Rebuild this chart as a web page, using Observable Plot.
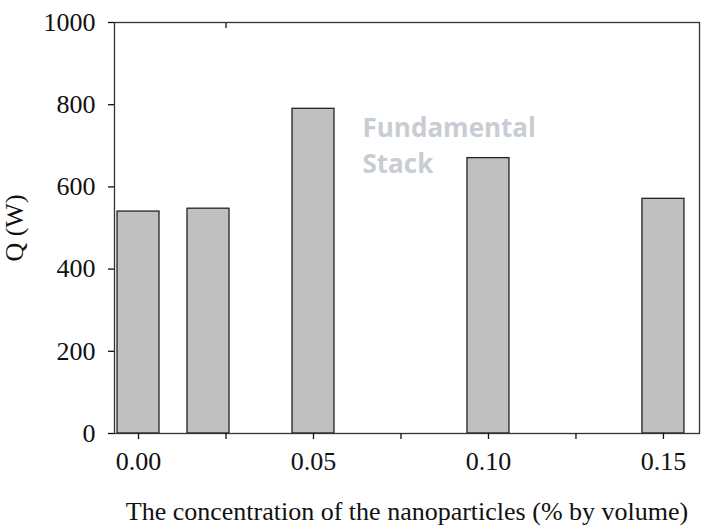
<!DOCTYPE html>
<html>
<head>
<meta charset="utf-8">
<script src="https://cdn.jsdelivr.net/npm/d3@7"></script>
<script src="https://cdn.jsdelivr.net/npm/@observablehq/plot@0.6"></script>
<style>
  html, body { margin: 0; padding: 0; background: #fff; }
</style>
</head>
<body>
<div id="chart"></div>
<script>
const concentrations = [0.00, 0.02, 0.05, 0.10, 0.15];
const heatQ = [540, 547, 790, 670, 571];
const xTicks = [0.00, 0.025, 0.05, 0.075, 0.10, 0.125, 0.15];
const xTickLabels = ["0.00", "", "0.05", "", "0.10", "", "0.15"];
const yTicks = [0, 200, 400, 600, 800, 1000];
const watermark = "Fundamental\nStack";

const data = concentrations.map((c, i) => ({c, q: heatQ[i]}));
const halfW = 0.006;
const serif = "'Liberation Serif', 'DejaVu Serif', serif";

const chart = Plot.plot({
  width: 708,
  height: 525,
  marginLeft: 114,
  marginRight: 9,
  marginTop: 22,
  marginBottom: 92,
  style: {fontFamily: serif, fontSize: "26px", color: "#111", background: "#fff"},
  x: {domain: [-0.00686, 0.1603]},
  y: {domain: [0, 1000]},
  marks: [
    Plot.rectY(data, {
      x1: d => d.c - halfW,
      x2: d => d.c + halfW,
      y: "q",
      fill: "#c0c0c0",
      stroke: "#222",
      strokeWidth: 1.3
    }),
    Plot.frame({stroke: "#333", strokeWidth: 1.3}),
    Plot.axisY({
      ticks: yTicks,
      tickFormat: d3.format("d"),
      tickSize: 6,
      tickPadding: 13,
      strokeWidth: 1.3,
      label: "Q (W)",
      labelAnchor: "center",
      labelArrow: "none",
      labelOffset: 110,
      fontSize: 26
    }),
    Plot.axisX({
      ticks: xTicks,
      tickFormat: (d, i) => xTickLabels[i],
      tickSize: 6,
      tickPadding: 12,
      strokeWidth: 1.3,
      label: "The concentration of the nanoparticles (% by volume)",
      labelAnchor: "center",
      labelArrow: "none",
      labelOffset: 86,
      fontSize: 26
    }),
    Plot.axisX({
      anchor: "top",
      ticks: [0.025],
      tickSize: -5,
      tickFormat: () => "",
      strokeWidth: 1.3,
      label: null
    }),
    Plot.text([watermark], {
      text: d => d,
      frameAnchor: "top-left",
      dx: 248,
      dy: 90,
      textAnchor: "start",
      lineAnchor: "top",
      lineHeight: 1.35,
      fill: "#c8cdd4",
      fontFamily: "'Open Sans', 'Noto Sans', sans-serif",
      fontWeight: "bold",
      fontSize: 26
    })
  ]
});
document.getElementById("chart").appendChild(chart);
</script>
</body>
</html>
